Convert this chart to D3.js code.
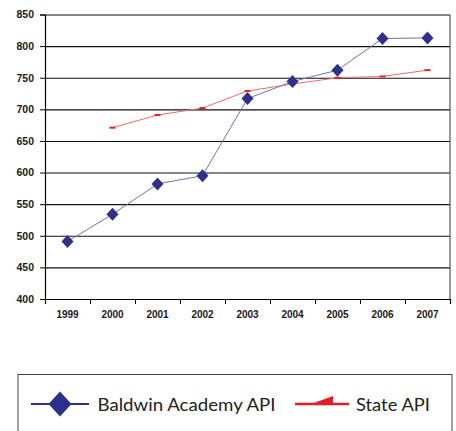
<!DOCTYPE html>
<html><head><meta charset="utf-8">
<script src="https://cdn.jsdelivr.net/npm/d3@7"></script>
<style>body{margin:0;background:#fff}svg{display:block}</style>
</head><body>
<svg id="c" width="456" height="431"></svg>
<script>
const years = ["1999","2000","2001","2002","2003","2004","2005","2006","2007"];
const baldwin = [491, 534, 582, 595, 717, 744, 762, 812, 813];
const stateYears = ["2000","2001","2002","2003","2004","2005","2006","2007"];
const stateApi = [671, 691, 702, 729, 740, 750, 752, 762];
const yTicks = [400, 450, 500, 550, 600, 650, 700, 750, 800, 850];
const legendLabels = ["Baldwin Academy API", "State API"];

const svg = d3.select("#c");
const L = 45, R = 450, T = 14.5, B = 299;
const x = d3.scaleBand().domain(years).range([L, R]);
const xi = d3.scaleLinear().domain([0, years.length]).range([L, R]);
const y = d3.scaleLinear().domain([400, 850]).range([B, T]);

// gridlines
svg.append("g").attr("transform", `translate(${L},0)`)
  .call(d3.axisLeft(y).tickValues(yTicks).tickSize(-(R - L)).tickFormat(""))
  .call(g => g.select(".domain").remove())
  .call(g => g.selectAll("line").attr("stroke", "#111").attr("stroke-width", 1.1));

// y axis
svg.append("g").attr("transform", `translate(${L},0)`)
  .call(d3.axisLeft(y).tickValues(yTicks).tickSize(5).tickPadding(6))
  .call(g => g.select(".domain").attr("stroke", "#000").attr("stroke-width", 1.2))
  .call(g => g.selectAll("line").attr("stroke", "#000"))
  .call(g => g.selectAll("text").attr("font-family", "Liberation Sans, Arial, sans-serif")
    .attr("font-weight", "bold").attr("font-size", "10.5px").attr("fill", "#1a1a1a"));

// right border
svg.append("line").attr("x1", R).attr("x2", R).attr("y1", y(850)).attr("y2", y(400))
  .attr("stroke", "#555").attr("stroke-width", 1.2);

// x axis ticks
svg.append("g").attr("transform", `translate(0,${B})`)
  .call(d3.axisBottom(xi).tickValues(d3.range(0, years.length + 1)).tickSize(5).tickFormat(""))
  .call(g => g.select(".domain").attr("stroke", "#000").attr("stroke-width", 1.2))
  .call(g => g.selectAll("line").attr("stroke", "#000"));
// x labels
svg.append("g").attr("transform", `translate(0,${B})`)
  .call(d3.axisBottom(x).tickSize(0).tickPadding(12))
  .call(g => g.select(".domain").remove())
  .call(g => g.selectAll("text").attr("font-family", "Liberation Sans, Arial, sans-serif")
    .attr("font-weight", "bold").attr("font-size", "10px").attr("fill", "#1a1a1a"));

const cx = d => x(d) + x.bandwidth() / 2;

// state line
const stateData = stateYears.map((yr, i) => ({yr, v: stateApi[i]}));
svg.append("path").datum(stateData)
  .attr("d", d3.line().x(d => cx(d.yr)).y(d => y(d.v)))
  .attr("fill", "none").attr("stroke", "#f26b6b").attr("stroke-width", 1);
svg.selectAll(".sm").data(stateData).join("rect").attr("class", "sm")
  .attr("x", d => cx(d.yr) - 3).attr("y", d => y(d.v) - 1).attr("width", 6).attr("height", 2)
  .attr("fill", "#e8231f");

// baldwin line
const bData = years.map((yr, i) => ({yr, v: baldwin[i]}));
svg.append("path").datum(bData)
  .attr("d", d3.line().x(d => cx(d.yr)).y(d => y(d.v)))
  .attr("fill", "none").attr("stroke", "#6f72b4").attr("stroke-width", 1);
const diamond = d3.symbol().type(d3.symbolDiamond2);
svg.selectAll(".bm").data(bData).join("path").attr("class", "bm")
  .attr("transform", d => `translate(${cx(d.yr)},${y(d.v)})`)
  .attr("d", "M0,-6.5L6,0L0,6.5L-6,0Z")
  .attr("fill", "#2d3189");

// legend
const lg = svg.append("g");
lg.append("rect").attr("x", 18).attr("y", 374.5).attr("width", 434).attr("height", 70)
  .attr("fill", "none").attr("stroke", "#444").attr("stroke-width", 1);
const ly = 404;
lg.append("line").attr("x1", 31).attr("x2", 89).attr("y1", ly).attr("y2", ly)
  .attr("stroke", "#2d3189").attr("stroke-width", 2);
lg.append("path").attr("transform", `translate(60,${ly})`)
  .attr("d", "M0,-12.5L11.5,0L0,12.5L-11.5,0Z").attr("fill", "#2d3189");
lg.append("text").attr("x", 97.5).attr("y", ly + 6.5).text(legendLabels[0])
  .attr("font-family", "Lato, sans-serif").attr("font-size", "18px").attr("fill", "#222")
  .attr("textLength", 178).attr("lengthAdjust", "spacingAndGlyphs");
lg.append("line").attr("x1", 295).attr("x2", 349).attr("y1", ly).attr("y2", ly)
  .attr("stroke", "#e31e24").attr("stroke-width", 2.5);
lg.append("path").attr("d", `M311,${ly}L333,${ly - 8}L333,${ly + 1}Z`).attr("fill", "#e31e24");
lg.append("text").attr("x", 356).attr("y", ly + 6.5).text(legendLabels[1])
  .attr("font-family", "Lato, sans-serif").attr("font-size", "18px").attr("fill", "#222")
  .attr("textLength", 74).attr("lengthAdjust", "spacingAndGlyphs");
</script>
</body></html>
